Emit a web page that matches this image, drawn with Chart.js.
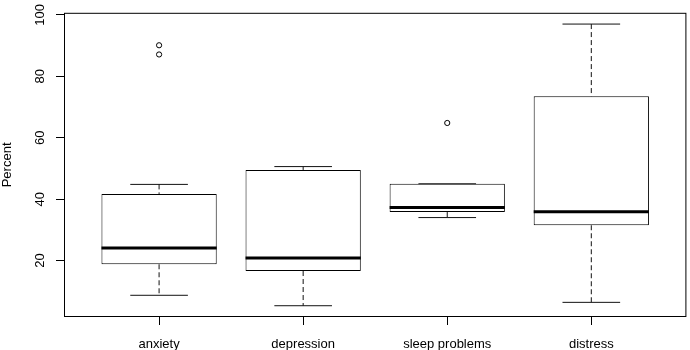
<!DOCTYPE html>
<html><head><meta charset="utf-8">
<script src="https://cdn.jsdelivr.net/npm/chart.js@4/dist/chart.umd.min.js"></script>
<style>html,body{margin:0;padding:0;background:#fff}</style>
</head><body>
<canvas id="c" width="690" height="350"></canvas>
<script>
// ---- data ----
const categories   = ['anxiety', 'depression', 'sleep problems', 'distress'];
const lowerWhisker = [8.7, 5.3, 34.0, 6.4];
const q1           = [18.8, 16.6, 35.8, 31.5];
const median       = [24.1, 20.8, 37.3, 35.9];
const q3           = [41.7, 49.5, 45.0, 73.5];
const upperWhisker = [44.8, 50.6, 45.0, 97.0];
const outliers     = [[87.1, 90.1], [], [64.8], []];
const yTicks       = [20, 40, 60, 80, 100];
const yAxisTitle   = 'Percent';

// ---- build datasets (positions come from the scales) ----
const FONT = '"Liberation Sans", Arial, Helvetica, sans-serif';
const BOX_HALF = 0.4, CAP_HALF = 0.2;
const pos = categories.map((_, i) => i + 1);

const boxes = pos.map((x, i) => ({ x, y: [q1[i], q3[i]] }));
const meds = [], caps = [], whisk = [], outs = [];
pos.forEach((x, i) => {
  meds.push({ x: x - BOX_HALF, y: median[i] }, { x: x + BOX_HALF, y: median[i] }, { x, y: null });
  caps.push({ x: x - CAP_HALF, y: upperWhisker[i] }, { x: x + CAP_HALF, y: upperWhisker[i] }, { x, y: null });
  caps.push({ x: x - CAP_HALF, y: lowerWhisker[i] }, { x: x + CAP_HALF, y: lowerWhisker[i] }, { x, y: null });
  whisk.push({ x, y: upperWhisker[i] }, { x, y: q3[i] }, { x, y: null });
  whisk.push({ x, y: q1[i] }, { x, y: lowerWhisker[i] }, { x, y: null });
  outliers[i].forEach(v => outs.push({ x, y: v }));
});

// R-style 4% axis extension
const allVals = [].concat(lowerWhisker, upperWhisker, ...outliers);
const lo = Math.min(...allVals), hi = Math.max(...allVals);
const yPad = 0.04 * (hi - lo);
const xLo = 0.5, xHi = categories.length + 0.5, xPad = 0.04 * (xHi - xLo);

const frame = {
  id: 'frame',
  afterDatasetsDraw(chart) {
    const { ctx, chartArea: a } = chart;
    ctx.save();
    ctx.strokeStyle = '#000';
    ctx.lineWidth = 1;
    ctx.strokeRect(a.left + 0.5, a.top + 0.5, a.right - a.left - 1, a.bottom - a.top - 1);
    ctx.restore();
  }
};

const lineBase = { type: 'line', pointRadius: 0, pointHoverRadius: 0, spanGaps: false, fill: false, tension: 0 };

new Chart(document.getElementById('c'), {
  type: 'bar',
  data: {
    datasets: [
      Object.assign({}, lineBase, { data: meds, borderColor: '#000', borderWidth: 3, borderCapStyle: 'butt', order: 0 }),
      { type: 'bar', data: boxes, backgroundColor: '#fff', borderColor: '#000', borderWidth: 1, borderSkipped: false,
        barPercentage: 2 * BOX_HALF, categoryPercentage: 1, order: 1 },
      Object.assign({}, lineBase, { data: caps, borderColor: '#111', borderWidth: 1, order: 2 }),
      Object.assign({}, lineBase, { data: whisk, borderColor: '#111', borderWidth: 1, borderDash: [5, 3], order: 3 }),
      Object.assign({}, lineBase, { data: outs, showLine: false, pointRadius: 2.6, pointStyle: 'circle',
        pointBorderColor: '#000', pointBackgroundColor: 'rgba(0,0,0,0)', pointBorderWidth: 1, order: 4 })
    ]
  },
  options: {
    responsive: false,
    animation: false,
    events: [],
    layout: { padding: { top: 9, right: 1, left: 0, bottom: 0 } },
    plugins: { legend: { display: false }, tooltip: { enabled: false } },
    scales: {
      x: {
        type: 'linear',
        offset: false,
        min: xLo - xPad, max: xHi + xPad,
        afterBuildTicks: s => { s.ticks = pos.map(v => ({ value: v })); },
        afterFit: s => { s.height = 33; },
        grid: { offset: false, drawOnChartArea: false, drawTicks: true, tickLength: 8, color: '#000', tickWidth: 1 },
        border: { display: false },
        ticks: { autoSkip: false, maxRotation: 0, minRotation: 0, padding: 12, color: '#000',
          font: { family: FONT, size: 13 },
          callback: (v, i) => categories[i] }
      },
      y: {
        type: 'linear',
        min: lo - yPad, max: hi + yPad,
        afterBuildTicks: s => { s.ticks = yTicks.map(v => ({ value: v })); },
        afterFit: s => { s.width = 64; },
        grid: { drawOnChartArea: false, drawTicks: true, tickLength: 8, color: '#000', tickWidth: 1 },
        border: { display: false },
        ticks: { minRotation: 90, maxRotation: 90, crossAlign: 'center', padding: 5, color: '#000',
          font: { family: FONT, size: 13 } },
        title: { display: true, text: yAxisTitle, color: '#000', font: { family: FONT, size: 13, lineHeight: 1 },
          padding: { top: 1, bottom: 0 } }
      }
    }
  },
  plugins: [frame]
});
</script>
</body></html>
